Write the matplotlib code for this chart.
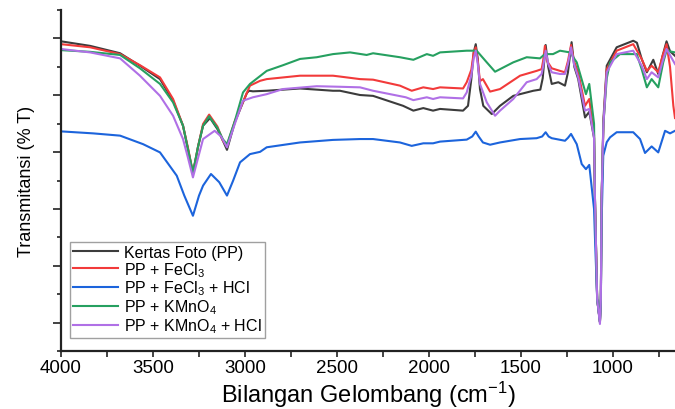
import numpy as np
import matplotlib
matplotlib.use("Agg")
import matplotlib.pyplot as plt
from matplotlib.ticker import MultipleLocator

plt.rcParams['font.family'] = ['Liberation Sans', 'DejaVu Sans']
plt.rcParams['mathtext.fontset'] = 'custom'
plt.rcParams['mathtext.rm'] = 'Liberation Sans'
plt.rcParams['mathtext.it'] = 'Liberation Sans'

# FTIR spectra (wavenumber in cm-1, %T)
wn_pp = [4000, 3842, 3679, 3571, 3462, 3391, 3337, 3310, 3283, 3255, 3228, 3190,
         3150, 3120, 3098, 3055, 2990, 2978, 2957, 2882, 2701, 2522, 2484, 2375,
         2304, 2141, 2085, 2031, 1978, 1940, 1815, 1788, 1770, 1757, 1746, 1735,
         1723, 1705, 1659, 1614, 1542, 1433, 1395, 1382, 1366, 1352, 1333, 1297,
         1261, 1245, 1225, 1210, 1189, 1152, 1129, 1103, 1098, 1086, 1071, 1066,
         1062, 1052, 1034, 980, 890, 870, 844, 816, 781, 754, 730, 709, 690, 663]
t_pp = [109.0, 107.4, 104.8, 100.4, 95.7, 88.1, 79.3, 71.0, 62.3, 72.0, 79.3, 82.0,
        78.1, 74.0, 70.8, 80.6, 90.8, 91.6, 91.4, 91.6, 92.4, 91.6, 91.6, 90.1,
        89.8, 86.3, 84.6, 85.5, 84.6, 85.2, 84.6, 86.3, 95.7, 105.1, 108.0, 102.8,
        92.2, 86.3, 83.4, 86.3, 89.8, 91.6, 92.0, 96.0, 107.7, 100.0, 94.0, 94.6,
        93.4, 98.0, 108.7, 100.0, 95.7, 82.2, 84.2, 75.0, 53.5, 18.3, 10.2, 18.3,
        53.5, 81.6, 100.4, 106.9, 109.2, 108.5, 102.8, 98.1, 102.5, 97.5, 104.0, 109.0,
        105.5, 103.9]

wn_fecl3 = [4000, 3842, 3679, 3571, 3462, 3391, 3337, 3310, 3283, 3255, 3228, 3195,
            3150, 3120, 3098, 3055, 2973, 2918, 2882, 2701, 2522, 2484, 2375, 2304, 2158,
            2094, 2031, 1978, 1940, 1815, 1795, 1770, 1757, 1746, 1735, 1723, 1707,
            1668, 1614, 1505, 1415, 1388, 1380, 1370, 1358, 1333, 1288, 1261, 1245,
            1228, 1212, 1189, 1152, 1129, 1103, 1098, 1086, 1071, 1066, 1062, 1052,
            1034, 980, 890, 844, 816, 790, 754, 730, 709, 690, 672, 663]
t_fecl3 = [108.0, 106.9, 104.5, 100.6, 96.3, 88.7, 79.3, 71.5, 62.6, 72.0, 79.9, 83.2,
           79.0, 74.0, 72.2, 81.0, 93.4, 95.1, 95.7, 96.9, 96.9, 96.6, 95.7, 95.5, 93.4,
           91.6, 92.8, 92.2, 92.8, 92.4, 94.6, 99.0, 105.0, 106.9, 102.0, 95.0, 95.7,
           91.3, 92.2, 96.9, 98.6, 99.2, 102.0, 107.4, 102.0, 99.5, 98.6, 98.1, 102.0,
           107.7, 102.0, 98.1, 86.3, 88.7, 76.0, 53.5, 18.3, 10.2, 18.3, 53.5, 80.0,
           99.2, 105.7, 108.0, 102.8, 98.6, 100.4, 98.1, 104.0, 108.0, 100.0, 86.3, 82.0]

wn_fecl3_hcl = [4000, 3826, 3679, 3554, 3462, 3371, 3330, 3283, 3250, 3228, 3185, 3140,
                3098, 3065, 3027, 2973, 2918, 2882, 2701, 2522, 2375, 2304, 2158, 2094,
                2031, 1978, 1940, 1795, 1765, 1746, 1730, 1707, 1668, 1614, 1505, 1415,
                1385, 1366, 1350, 1333, 1261, 1245, 1228, 1197, 1170, 1147, 1129, 1103,
                1098, 1086, 1071, 1066, 1062, 1053, 1034, 1016, 980, 890, 853, 826,
                790, 754, 717, 690, 663]
t_fecl3_hcl = [77.3, 76.6, 75.8, 72.8, 69.9, 61.7, 54.7, 47.6, 54.7, 58.2, 62.3, 59.4,
               54.7, 59.9, 66.4, 69.3, 70.1, 71.7, 73.4, 74.3, 74.6, 74.6, 73.4, 72.2,
               73.1, 73.1, 73.7, 74.4, 75.5, 77.2, 75.5, 73.4, 72.6, 73.4, 74.6, 74.9,
               75.5, 77.0, 75.5, 74.9, 74.0, 75.0, 76.4, 72.8, 65.8, 64.0, 65.5, 50.0,
               40.0, 18.3, 10.2, 18.3, 45.0, 68.7, 73.5, 75.2, 77.0, 77.0, 74.6, 69.7,
               72.0, 69.9, 77.5, 76.6, 77.5]

wn_kmno4 = [4000, 3842, 3679, 3571, 3462, 3391, 3337, 3310, 3283, 3255, 3228, 3195,
            3150, 3120, 3098, 3055, 3011, 2973, 2882, 2793, 2701, 2610, 2522, 2429, 2339,
            2304, 2158, 2085, 2012, 1978, 1940, 1795, 1741, 1686, 1641, 1614, 1542,
            1469, 1397, 1370, 1326, 1288, 1234, 1197, 1147, 1129, 1103, 1098, 1086,
            1071, 1066, 1062, 1052, 1034, 1016, 962, 871, 844, 816, 790, 754, 727,
            709, 663]
t_kmno4 = [105.9, 105.3, 104.2, 99.5, 94.0, 87.5, 79.3, 71.0, 62.9, 72.0, 79.3, 82.6,
           78.5, 74.5, 72.8, 81.0, 91.0, 94.0, 98.6, 100.6, 102.8, 103.4, 104.5, 105.1, 104.2,
           104.8, 103.4, 102.5, 104.5, 103.9, 105.1, 105.7, 105.7, 101.6, 98.3, 99.2, 101.6,
           103.4, 103.0, 104.5, 104.5, 105.7, 105.1, 101.6, 90.4, 94.0, 80.0, 53.5, 18.3,
           10.2, 18.3, 53.5, 80.0, 96.0, 101.6, 104.5, 104.5, 99.2, 92.8, 95.7, 92.8, 101.6,
           105.7, 105.1]

wn_kmno4_hcl = [4000, 3842, 3679, 3571, 3462, 3391, 3337, 3310, 3283, 3255, 3228, 3165,
                3130, 3098, 3055, 3011, 2957, 2882, 2793, 2610, 2484, 2375, 2304, 2126,
                2085, 2012, 1978, 1940, 1815, 1795, 1770, 1757, 1746, 1735, 1723, 1686,
                1641, 1614, 1542, 1469, 1415, 1388, 1380, 1366, 1352, 1333, 1288, 1261,
                1245, 1228, 1212, 1189, 1152, 1129, 1103, 1098, 1086, 1071, 1066, 1062,
                1052, 1034, 980, 890, 844, 816, 790, 754, 730, 709, 663]
t_kmno4_hcl = [106.3, 105.1, 103.0, 96.9, 89.8, 82.8, 74.6, 68.0, 61.1, 68.0, 74.6, 77.5,
               75.5, 71.7, 80.0, 88.1, 89.3, 90.4, 92.2, 93.2, 93.0, 92.8, 91.6, 89.3,
               88.3, 89.3, 88.7, 89.3, 88.9, 91.0, 97.0, 103.0, 105.7, 101.0, 94.0, 87.5,
               82.8, 84.6, 88.7, 94.6, 95.7, 97.5, 100.0, 105.7, 101.0, 98.1, 97.5, 97.5,
               101.0, 106.9, 101.0, 96.3, 84.6, 85.2, 75.0, 53.5, 18.3, 9.5, 18.3, 53.5,
               80.0, 98.1, 104.5, 105.7, 100.4, 95.7, 98.1, 96.3, 102.0, 106.3, 101.0]

labels = ['Kertas Foto (PP)', 'PP + FeCl$_3$', 'PP + FeCl$_3$ + HCl',
          'PP + KMnO$_4$', 'PP + KMnO$_4$ + HCl']
colors = ['#3c3c3c', '#f23a3a', '#1c64dc', '#26a060', '#b070e6']

fig = plt.figure(figsize=(6.75, 4.10), dpi=100)
ax = fig.add_axes([0.0904, 0.1415, 0.9096, 0.8315])

series = [(wn_pp, t_pp), (wn_fecl3, t_fecl3), (wn_fecl3_hcl, t_fecl3_hcl),
          (wn_kmno4, t_kmno4), (wn_kmno4_hcl, t_kmno4_hcl)]
for (wn, t), lab, c in zip(series, labels, colors):
    ax.plot(wn, t, color=c, lw=1.5, label=lab, solid_joinstyle='round')

ax.set_xlim(4000, 663)
ax.set_ylim(0, 120)
ax.xaxis.set_major_locator(MultipleLocator(500))
ax.xaxis.set_minor_locator(MultipleLocator(250))
ax.yaxis.set_major_locator(MultipleLocator(20, offset=10))
ax.yaxis.set_minor_locator(MultipleLocator(20))
ax.set_yticklabels([])
ax.tick_params(axis='both', which='both', direction='out', width=1.2,
               color='#222222')
ax.tick_params(axis='x', which='both', length=4)
ax.tick_params(axis='y', which='major', length=6)
ax.tick_params(axis='y', which='minor', length=3)
ax.tick_params(axis='x', labelsize=13.5, pad=2)
for s in ['top', 'right']:
    ax.spines[s].set_visible(False)
for s in ['left', 'bottom']:
    ax.spines[s].set_linewidth(1.6)
    ax.spines[s].set_color('#222222')

ax.set_xlabel('Bilangan Gelombang (cm$^{-1}$)', fontsize=17, labelpad=2)
ax.set_ylabel('Transmitansi (% T)', fontsize=13, labelpad=9)

leg = ax.legend(loc='lower left', bbox_to_anchor=(0.014, 0.038), fontsize=11.5,
                frameon=True, fancybox=False, edgecolor='#888888',
                handlelength=2.8, handletextpad=0.4, labelspacing=0.0,
                borderpad=0.2, borderaxespad=0)
leg.get_frame().set_linewidth(1.0)

fig.savefig('out.png', dpi=100)
